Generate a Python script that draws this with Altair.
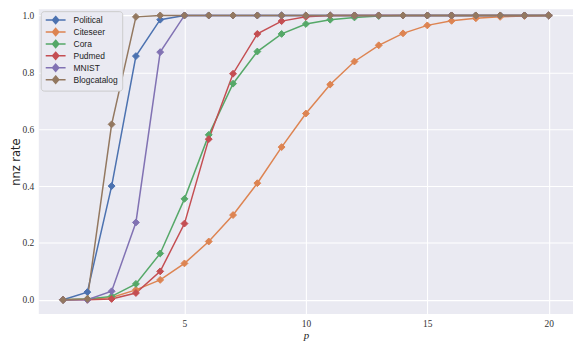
import altair as alt
import pandas as pd

p_values = list(range(0, 21))
series_names = ["Political", "Citeseer", "Cora", "Pudmed", "MNIST", "Blogcatalog"]
colors = ["#4C72B0", "#DD8452", "#55A868", "#C44E52", "#8172B3", "#937860"]

political = [0.0, 0.027, 0.40, 0.857, 0.985, 1.0, 1.0, 1.0, 1.0, 1.0, 1.0,
             1.0, 1.0, 1.0, 1.0, 1.0, 1.0, 1.0, 1.0, 1.0, 1.0]
citeseer = [0.0, 0.002, 0.008, 0.035, 0.07, 0.128, 0.205, 0.298, 0.41, 0.537, 0.655,
            0.757, 0.838, 0.895, 0.937, 0.965, 0.981, 0.99, 0.995, 0.998, 1.0]
cora = [0.0, 0.003, 0.012, 0.056, 0.163, 0.355, 0.58, 0.76, 0.873, 0.935, 0.97,
        0.985, 0.993, 0.998, 1.0, 1.0, 1.0, 1.0, 1.0, 1.0, 1.0]
pudmed = [0.0, 0.0, 0.003, 0.024, 0.10, 0.268, 0.565, 0.795, 0.935, 0.98, 0.995,
          1.0, 1.0, 1.0, 1.0, 1.0, 1.0, 1.0, 1.0, 1.0, 1.0]
mnist = [0.0, 0.0, 0.03, 0.272, 0.871, 1.0, 1.0, 1.0, 1.0, 1.0, 1.0,
         1.0, 1.0, 1.0, 1.0, 1.0, 1.0, 1.0, 1.0, 1.0, 1.0]
blogcatalog = [0.0, 0.003, 0.617, 0.995, 1.0, 1.0, 1.0, 1.0, 1.0, 1.0, 1.0,
               1.0, 1.0, 1.0, 1.0, 1.0, 1.0, 1.0, 1.0, 1.0, 1.0]

all_values = [political, citeseer, cora, pudmed, mnist, blogcatalog]

rows = []
for idx, (name, vals) in enumerate(zip(series_names, all_values)):
    for p, v in zip(p_values, vals):
        rows.append({"p": p, "rate": v, "series": name, "order": idx})
df = pd.DataFrame(rows)

x_enc = alt.X("p:Q", scale=alt.Scale(domain=[-1, 21], nice=False, zero=False),
              axis=alt.Axis(values=[5, 10, 15, 20], title="p", titleFont="Liberation Serif",
                            titleFontStyle="italic", titleFontWeight="normal", titleFontSize=11,
                            titleColor="#222222", titlePadding=1,
                            labelFont="Liberation Serif", labelFontSize=9.5,
                            labelColor="#333333", labelPadding=5, ticks=False, domain=False,
                            gridColor="white", gridWidth=1.1))
y_enc = alt.Y("rate:Q", scale=alt.Scale(domain=[-0.05, 1.022], nice=False, zero=False),
              axis=alt.Axis(values=[0.0, 0.2, 0.4, 0.6, 0.8, 1.0], format=".1f", title="nnz rate",
                            titleFont="DejaVu Sans", titleFontWeight="normal", titleFontSize=11.5,
                            titleColor="#222222", titlePadding=1,
                            labelFont="Liberation Serif", labelFontSize=9.5,
                            labelColor="#333333", labelPadding=5, ticks=False, domain=False,
                            gridColor="white", gridWidth=1.1))

# line layer uses its own (reversed-order) colour scale so its hidden legend is not merged
line_scale = alt.Scale(domain=list(reversed(series_names)), range=list(reversed(colors)))
point_scale = alt.Scale(domain=series_names, range=colors)

lines = alt.Chart(df).mark_line(strokeWidth=1.5).encode(
    x=x_enc, y=y_enc,
    color=alt.Color("series:N", scale=line_scale, legend=None),
    detail="series:N",
    order="p:Q",
)

symbol_path = "M-2.5,0L2.5,0M0,-0.9L0.78,0L0,0.9L-0.78,0Z"

legend = alt.Legend(
    title=None, orient="top-left", offset=2,
    symbolType=symbol_path, symbolSize=64, symbolStrokeWidth=1.5, symbolOffset=6,
    labelFont="Liberation Sans", labelFontSize=8.5, labelColor="#222222",
    rowPadding=-2, padding=4, fillColor="#EAEAF2", strokeColor="#CCCCCC",
    cornerRadius=3, labelOffset=13,
)

points = alt.Chart(df).mark_point(shape="diamond", filled=True, size=48, opacity=1,
                                  strokeWidth=1).encode(
    x=x_enc, y=y_enc,
    fill=alt.Fill("series:N", scale=point_scale, legend=legend),
    stroke=alt.Stroke("series:N", scale=point_scale, legend=legend),
    order=alt.Order("order:Q"),
)

chart = alt.layer(lines, points).resolve_scale(color="independent").properties(
    width=538, height=307,
    autosize=alt.AutoSizeParams(type="none"),
    padding={"left": 31, "top": 0, "right": 0, "bottom": 28},
    background="white",
).configure_view(fill="#EAEAF2", stroke=None)

chart.save("out.html", embed_options={"renderer": "svg", "actions": False})
